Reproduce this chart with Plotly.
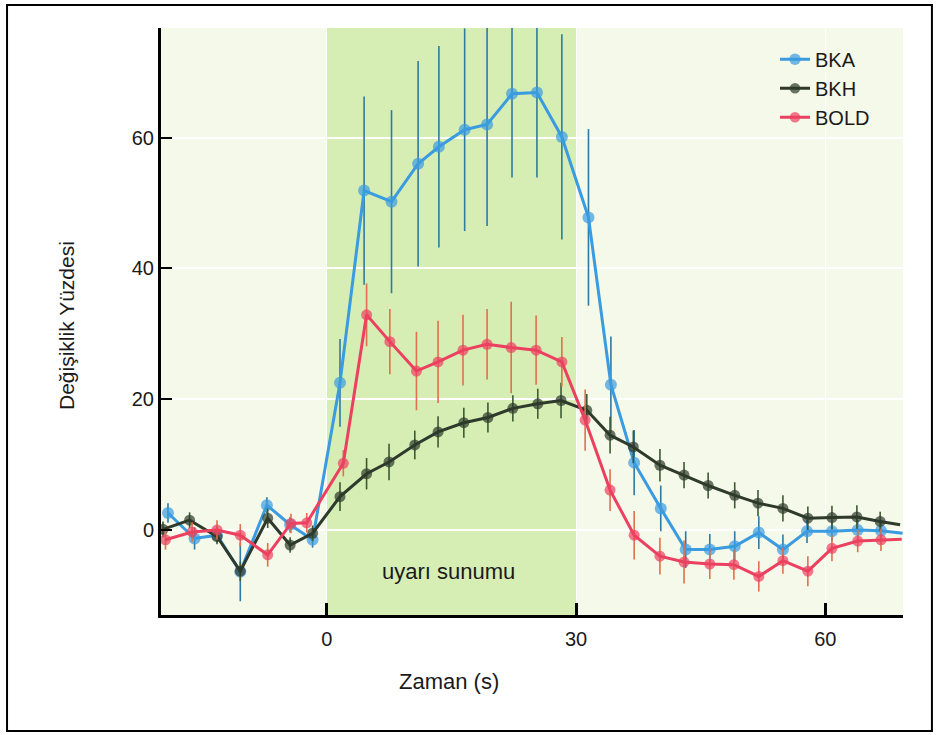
import plotly.graph_objects as go

# ---------------- data ----------------
bka_t = [-19.1, -15.9, -13.2, -10.4, -7.2, -4.4, -1.7, 1.6, 4.5, 7.8, 11.0, 13.5, 16.6, 19.3, 22.3,
         25.3, 28.3, 31.5, 34.2, 37.0, 40.2, 43.2, 46.1, 49.1, 52.0, 54.9, 57.8, 60.8, 63.9, 66.7, 69.3]
bka_v = [2.6, -1.3, -0.8, -6.4, 3.8, 0.8, -1.5, 22.5, 51.9, 50.2, 56.0, 58.6, 61.2, 62.0, 66.7,
         66.9, 60.1, 47.8, 22.2, 10.3, 3.3, -3.0, -3.0, -2.5, -0.4, -3.0, -0.2, -0.2, 0.0, -0.1, -0.5]
bka_e = [1.5, 1.7, 1.2, 4.5, 1.2, 1.2, 1.2, 6.7, 14.4, 14.0, 15.7, 15.4, 15.5, 15.5, 12.8,
         13.0, 15.7, 13.5, 7.4, 5.0, 3.5, 2.8, 2.4, 2.3, 2.5, 2.3, 1.8, 1.5, 1.5, 1.5, 0]

bkh_t = [-19.7, -16.5, -13.2, -10.4, -7.1, -4.4, -1.7, 1.6, 4.8, 7.5, 10.6, 13.4, 16.5, 19.4, 22.4,
         25.4, 28.2, 31.3, 34.1, 36.9, 40.1, 43.0, 45.9, 49.1, 51.9, 54.9, 57.9, 60.8, 63.8, 66.6, 69.0]
bkh_v = [0.1, 1.5, -1.0, -6.3, 1.8, -2.3, -0.5, 5.1, 8.6, 10.4, 13.0, 15.0, 16.4, 17.2, 18.6,
         19.3, 19.8, 18.3, 14.5, 12.7, 9.9, 8.4, 6.8, 5.3, 4.1, 3.3, 1.8, 1.9, 2.0, 1.3, 0.8]
bkh_e = [1.2, 1.2, 1.2, 1.5, 1.5, 1.2, 1.2, 2.2, 2.4, 2.8, 2.2, 2.4, 2.3, 2.3, 2.0,
         2.3, 2.7, 2.5, 2.8, 2.5, 2.5, 2.0, 2.0, 2.0, 2.0, 2.0, 1.8, 1.8, 1.8, 1.5, 0]

bold_t = [-19.4, -16.2, -13.2, -10.4, -7.1, -4.3, -2.4, 2.0, 4.8, 7.6, 10.8, 13.4, 16.4, 19.3, 22.2,
          25.2, 28.3, 31.1, 34.1, 37.0, 40.1, 43.0, 46.1, 49.0, 52.0, 54.9, 57.9, 60.8, 63.9, 66.7, 69.2]
bold_v = [-1.5, -0.3, 0.0, -0.8, -3.8, 1.0, 1.1, 10.2, 32.9, 28.8, 24.3, 25.7, 27.5, 28.4, 27.9,
          27.5, 25.7, 16.8, 6.1, -0.8, -4.0, -4.9, -5.2, -5.3, -7.1, -4.7, -6.3, -2.8, -1.7, -1.5, -1.4]
bold_e = [1.5, 1.5, 1.5, 1.7, 1.8, 1.5, 1.5, 2.0, 4.8, 5.0, 6.0, 6.3, 5.4, 5.4, 7.0,
          5.3, 3.8, 4.7, 3.2, 3.7, 2.8, 3.3, 2.3, 2.3, 2.3, 2.0, 2.3, 2.0, 1.7, 1.7, 0]

x_ticks = [0, 30, 60]
y_ticks = [0, 20, 40, 60]
stim_start, stim_end = 0, 30
stim_label = "uyarı sunumu"
stim_label_pos = (14.7, -6.4)

FONT = "Liberation Sans, Arial, sans-serif"

series = [
    ("BKA", bka_t, bka_v, bka_e, "#3a9be0", "#2f7aa2", 12),
    ("BKH", bkh_t, bkh_v, bkh_e, "#2e3a2b", "#3d5a34", 11),
    ("BOLD", bold_t, bold_v, bold_e, "#ec4060", "#e0704e", 11),
]

fig = go.Figure()
for name, t, v, e, col, ecol, ms in series:
    sizes = [ms] * (len(t) - 1) + [0]
    fig.add_trace(go.Scatter(
        x=t, y=v, name=name, mode="lines+markers", legendgroup=name,
        line=dict(color=col, width=3),
        marker=dict(color=col, size=sizes, line=dict(width=0)),
        error_y=dict(type="data", array=e, color=ecol, thickness=1.6, width=0),
    ))

# stimulus band
fig.add_shape(type="rect", xref="x", yref="paper", x0=stim_start, x1=stim_end, y0=0, y1=1,
              fillcolor="#d6eeb4", line=dict(width=0), layer="below")

# outer frame
fig.add_shape(type="rect", xref="paper", yref="paper", x0=-0.2075, x1=1.039, y0=-0.1976, y1=1.039,
              line=dict(color="black", width=2), fillcolor="rgba(0,0,0,0)", layer="above")

fig.add_annotation(x=stim_label_pos[0], y=stim_label_pos[1], xref="x", yref="y", text=stim_label,
                   showarrow=False, font=dict(family=FONT, size=22, color="#1a1a1a"))
fig.add_annotation(x=(449 - 161) / 742, y=(615 - 681) / 587, xref="paper", yref="paper",
                   xanchor="center", yanchor="middle",
                   text="Zaman (s)", showarrow=False, font=dict(family=FONT, size=22, color="#1a1a1a"))
fig.add_annotation(x=(67 - 161) / 742, y=(615 - 326) / 587, xref="paper", yref="paper",
                   xanchor="center", yanchor="middle",
                   text="Değişiklik Yüzdesi", textangle=-90, showarrow=False,
                   font=dict(family=FONT, size=21, color="#1a1a1a"))

fig.update_layout(
    width=939, height=735,
    margin=dict(l=161, r=36, t=28, b=120),
    paper_bgcolor="white", plot_bgcolor="#f4f9e9",
    font=dict(family=FONT, size=20, color="#1a1a1a"),
    showlegend=True,
    legend=dict(x=(775 - 161) / 742, y=0.98, xanchor="left", yanchor="top",
                bgcolor="rgba(0,0,0,0)", tracegroupgap=0, font=dict(family=FONT, size=20)),
    xaxis=dict(range=[-19.94, 69.35], tickvals=x_ticks, ticks="inside", ticklen=12, tickwidth=2.5,
               tickcolor="black", showline=True, linecolor="black", linewidth=3,
               showgrid=True, gridcolor="white", gridwidth=1, zeroline=False, ticklabelstandoff=4),
    yaxis=dict(range=[-13.0, 76.76], tickvals=y_ticks, ticks="inside", ticklen=11, tickwidth=2,
               tickcolor="black", showline=True, linecolor="black", linewidth=3,
               showgrid=True, gridcolor="white", gridwidth=2, zeroline=False, ticklabelstandoff=0),
)

fig.write_html("out.html")
